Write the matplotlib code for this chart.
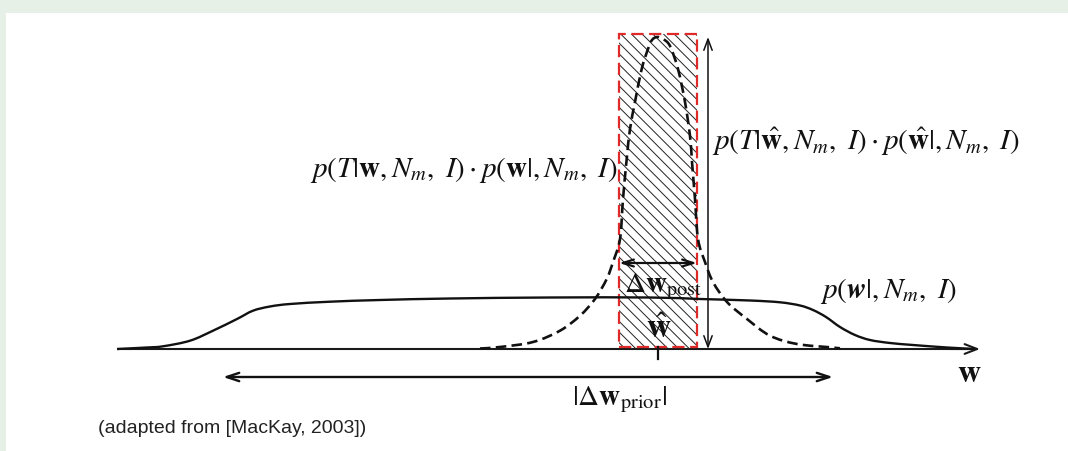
import matplotlib
matplotlib.use("Agg")
import matplotlib.pyplot as plt
from matplotlib.patches import Rectangle, PathPatch
from matplotlib.path import Path
import numpy as np

plt.rcParams['mathtext.fontset'] = 'stix'
plt.rcParams['font.family'] = ['DejaVu Sans']

# ---- data (w = horizontal position, p = height above the w axis)
prior_w = [117, 147, 163, 190, 213, 237, 253, 270, 290, 330, 380, 450, 550, 650, 700, 750, 780,
           800, 813, 826, 840, 855, 870, 890, 913, 947, 975]
prior_p = [0, 1.5, 2.7, 8.3, 18.3, 30, 38.3, 42.5, 45, 47.3, 49, 50.5, 51.5, 51.5, 50, 48.5, 46.7,
           43.5, 39, 32, 22, 14, 9, 6, 4, 1.5, 0]

post_w = [480, 500, 533, 560, 580, 595, 606.7, 613, 620, 623, 626.7, 630, 635, 641.7, 648, 652, 657,
          663, 670, 678, 685, 690, 692, 695, 698, 705, 713, 727, 747, 770, 797, 830, 840]
post_p = [0.5, 2, 7, 18.3, 33.3, 50, 70, 87, 110, 150, 190, 220, 247, 280, 300, 309, 312,
          310, 303, 280, 247, 213, 187, 150, 110, 87, 67, 47, 30, 13.3, 5, 1.7, 0.7]

w_axis = [117, 980]
box_w = [619, 697]
box_p = [0, 315]
w_hat = 658
peak_p = 312
prior_range = [223, 833]
prior_arrow_p = -28
post_arrow_p = 86


def smooth_path(xs, ys):
    """Catmull-Rom curve through the read points, rendered as cubic Bezier segments."""
    pts = np.column_stack([xs, ys]).astype(float)
    verts = [pts[0]]
    codes = [Path.MOVETO]
    n = len(pts)
    for i in range(n - 1):
        p0 = pts[i - 1] if i > 0 else pts[i]
        p1, p2 = pts[i], pts[i + 1]
        p3 = pts[i + 2] if i + 2 < n else pts[i + 1]
        c1 = p1 + (p2 - p0) / 6.0
        c2 = p2 - (p3 - p1) / 6.0
        verts += [c1, c2, p2]
        codes += [Path.CURVE4] * 3
    return Path(verts, codes)


fig = plt.figure(figsize=(10.68, 4.52), dpi=100)
fig.patch.set_facecolor('#e6f0e6')
ax = fig.add_axes([0, 0, 1, 1])
ax.set_xlim(0, 1068)
ax.set_ylim(-102, 350)
ax.axis('off')
ax.add_patch(Rectangle((6 / 1068, 0), 1 - 6 / 1068, 1 - 14 / 452,
                       transform=ax.transAxes, facecolor='white',
                       edgecolor='none', zorder=0, clip_on=False))

# w axis
ax.plot([w_axis[0], w_axis[1] - 10], [0, 0], color='#1a1a1a', lw=1.5, solid_capstyle='butt', zorder=3)
ax.annotate('', xy=(w_axis[1], 0), xytext=(w_axis[1] - 30, 0),
            arrowprops=dict(arrowstyle='->,head_length=0.9,head_width=0.35', lw=1.5, color='#1a1a1a',
                            shrinkA=0, shrinkB=0))

# hatched box
clip = Rectangle((box_w[0], box_p[0]), box_w[1] - box_w[0], box_p[1] - box_p[0],
                 facecolor='none', edgecolor='none')
ax.add_patch(clip)
for c in np.arange(box_w[0] - 330, box_w[1] + 20, 10.7):
    ln, = ax.plot([c, c + 340], [box_p[1], box_p[1] - 340], color='#222222', lw=0.7, zorder=2)
    ln.set_clip_path(clip)
ax.add_patch(Rectangle((box_w[0], box_p[0] + 2), box_w[1] - box_w[0], box_p[1] - box_p[0] - 2,
                       facecolor='none', edgecolor='#e02a2a', lw=1.6,
                       linestyle=(0, (5.5, 2.5)), zorder=4))

# prior (solid) and posterior (dashed)
ax.add_patch(PathPatch(smooth_path(prior_w, prior_p), facecolor='none', edgecolor='#111111',
                       lw=1.7, zorder=5))
ax.add_patch(PathPatch(smooth_path(post_w, post_p), facecolor='none', edgecolor='#111111',
                       lw=1.9, linestyle=(0, (4, 2)), zorder=5))

# tick at w hat
ax.plot([w_hat, w_hat], [2, -10], color='#111111', lw=1.6, zorder=5)

# vertical double arrow
ax.annotate('', xy=(708, peak_p), xytext=(708, 0),
            arrowprops=dict(arrowstyle='<->,head_length=0.8,head_width=0.3', lw=1.1,
                            color='#111111', shrinkA=0, shrinkB=0))
# delta w post arrow
ax.annotate('', xy=(box_w[0], post_arrow_p), xytext=(box_w[1], post_arrow_p),
            arrowprops=dict(arrowstyle='<->,head_length=0.8,head_width=0.25', lw=1.6,
                            color='#111111', shrinkA=0, shrinkB=0), zorder=6)
# prior range arrow
ax.annotate('', xy=(prior_range[0], prior_arrow_p), xytext=(prior_range[1], prior_arrow_p),
            arrowprops=dict(arrowstyle='<->,head_length=0.9,head_width=0.3', lw=1.7,
                            color='#111111', shrinkA=0, shrinkB=0))

fs = 21
ax.text(310, 173, r'$p(T|\mathbf{w},N_m,\ I)\cdot p(\mathbf{w}|,N_m,\ I)$', fontsize=fs,
        ha='left', va='baseline', color='#111111', zorder=7)
ax.text(712, 200, r'$p(T|\hat{\mathbf{w}},N_m,\ I)\cdot p(\hat{\mathbf{w}}|,N_m,\ I)$', fontsize=fs,
        ha='left', va='baseline', color='#111111', zorder=7)
ax.text(820, 52, r'$p(\boldsymbol{w}|,N_m,\ I)$', fontsize=fs,
        ha='left', va='baseline', color='#111111', zorder=7)
ax.text(624, 58, r'$\Delta\mathbf{w}_{\mathrm{post}}$', fontsize=fs,
        ha='left', va='baseline', color='#111111', zorder=7)
ax.text(659, 12, r'$\hat{\mathbf{w}}$', fontsize=fs + 3,
        ha='center', va='baseline', color='#111111', zorder=7)
ax.text(572, -55, r'$|\Delta\mathbf{w}_{\mathrm{prior}}|$', fontsize=fs,
        ha='left', va='baseline', color='#111111', zorder=7)
ax.text(957, -32, r'$\mathbf{w}$', fontsize=fs + 2,
        ha='left', va='baseline', color='#111111', zorder=7)
ax.text(98, -83, '(adapted from [MacKay, 2003])', fontsize=14, family=['Liberation Sans', 'DejaVu Sans'],
        ha='left', va='baseline', color='#222222', zorder=7)

fig.savefig('out.png', dpi=100)
